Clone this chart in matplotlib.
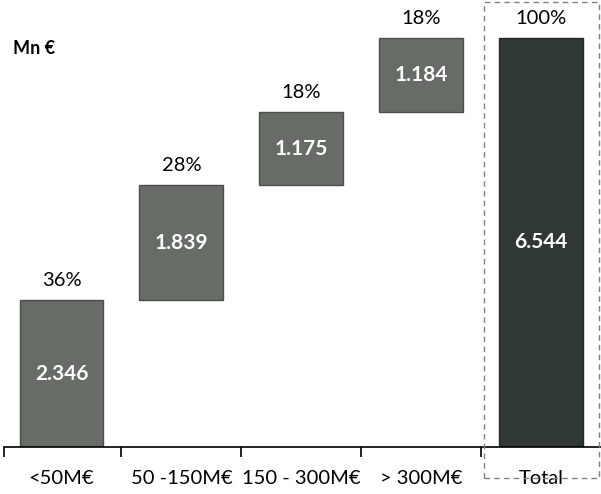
import matplotlib.pyplot as plt
from matplotlib.patches import Rectangle

plt.rcParams['font.family'] = ['Lato', 'DejaVu Sans']

categories = ['<50M€', '50 -150M€', '150 - 300M€', '> 300M€', 'Total']
values = [2.346, 1.839, 1.175, 1.184]
total = 6.544
shares = ['36%', '28%', '18%', '18%', '100%']

bar_col = '#676c67'
total_col = '#2f3832'

fig = plt.figure(figsize=(6.01, 4.94), dpi=100)
ax = fig.add_axes([4 / 601, 47 / 494, 597 / 601, 447 / 494])

# waterfall steps
bottom = 0
for i, v in enumerate(values):
    ax.bar(i, v, bottom=bottom, width=0.7, color=bar_col, edgecolor='#4a4f4a', linewidth=1)
    ax.text(i, bottom + v / 2, f'{v:.3f}', ha='center', va='center',
            color='white', fontsize=15, fontweight='bold')
    ax.annotate(shares[i], (i, bottom + v), xytext=(0, 8), textcoords='offset points',
                ha='center', va='bottom', fontsize=14.5)
    bottom += v

ax.bar(4, total, width=0.7, color=total_col, edgecolor='#222822', linewidth=1)
ax.text(4, total / 2, f'{total:.3f}', ha='center', va='center',
        color='white', fontsize=15, fontweight='bold')
ax.annotate(shares[4], (4, total), xytext=(0, 8), textcoords='offset points',
            ha='center', va='bottom', fontsize=14.5)

ax.set_xlim(-0.48, 4.5)
ax.set_ylim(0, 7.15)

for s in ['top', 'right', 'left']:
    ax.spines[s].set_visible(False)
ax.spines['bottom'].set_linewidth(1.2)
ax.set_yticks([])
ax.set_xticks([-0.48, 0.5, 1.5, 2.5, 3.5])
ax.set_xticklabels([])
ax.tick_params(axis='x', direction='out', length=7, width=1.2)
for i, c in enumerate(categories):
    ax.text(i, -0.51, c, ha='center', va='center', fontsize=14.5)

fig.text(13 / 601, 1 - 49 / 494, 'Mn €', fontsize=13, fontweight='bold', va='center')

# dashed frame around total
fig.patches.append(Rectangle((484 / 601, 16 / 494), 115 / 601, 476 / 494,
                             transform=fig.transFigure, fill=False,
                             edgecolor='#808080', linestyle=(0, (4, 3)), linewidth=1))

fig.savefig('out.png', dpi=100)
